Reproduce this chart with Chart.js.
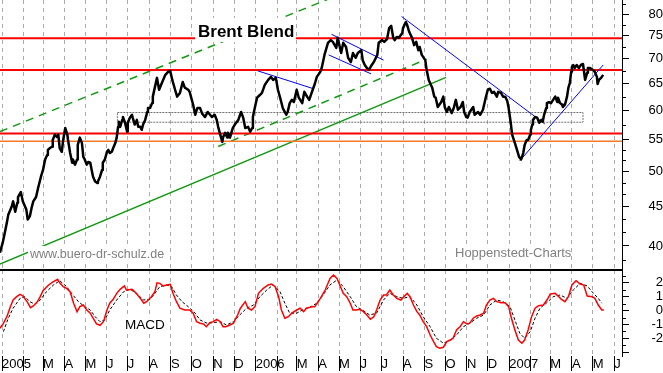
<!DOCTYPE html>
<html>
<head>
<meta charset="utf-8">
<script src="https://cdn.jsdelivr.net/npm/chart.js@4/dist/chart.umd.min.js"></script>
<style>
  html, body { margin: 0; padding: 0; background: #fff; }
  #wrap { position: relative; width: 663px; height: 373px; overflow: hidden; }
  canvas { position: absolute; left: 0; }
  #priceChart { top: 0; z-index: 2; }
  #macdChart { top: 270px; z-index: 1; }
</style>
</head>
<body>
<div id="wrap">
  <canvas id="priceChart" width="663" height="272"></canvas>
  <canvas id="macdChart" width="663" height="103"></canvas>
</div>
<script>
/*******************************
 * Brent Blend, Jan 2005 - May 2007
 * x values are days since 1 Jan 2005
*******************************/
var title = 'Brent Blend';

// price (USD / barrel)
var priceDays = [
  -3, 1, 4, 7, 9, 14, 16, 19, 22, 23,
  27, 30, 35, 37, 40, 43, 45, 49, 52, 56,
  59, 62, 65, 66, 69, 72, 73, 76, 79, 81,
  83, 86, 88, 91, 94, 95, 98, 101, 102, 105,
  108, 109, 112, 115, 117, 119, 122, 124, 127, 129,
  131, 134, 137, 138, 141, 144, 145, 148, 151, 153,
  155, 158, 160, 163, 165, 167, 168, 170, 173, 174,
  177, 180, 181, 184, 187, 188, 191, 194, 196, 199,
  201, 203, 206, 209, 210, 213, 216, 217, 220, 223,
  226, 230, 235, 239, 242, 245, 249, 252, 256, 260,
  263, 268, 270, 275, 278, 281, 285, 288, 292, 296,
  302, 306, 309, 311, 314, 317, 318, 321, 324, 325,
  328, 332, 335, 340, 344, 347, 350, 354, 357, 360,
  361, 364, 367, 371, 374, 378, 383, 387, 390, 394,
  397, 401, 404, 409, 411, 414, 417, 420, 424, 427,
  432, 435, 439, 442, 446, 450, 453, 458, 460, 464,
  469, 473, 476, 481, 483, 488, 491, 495, 498, 502,
  505, 509, 512, 517, 519, 522, 525, 528, 532, 535,
  540, 542, 547, 550, 554, 557, 560, 563, 565, 568,
  571, 576, 577, 581, 583, 586, 590, 593, 596, 599,
  601, 604, 609, 611, 614, 619, 622, 624, 627, 632,
  635, 637, 640, 643, 647, 650, 653, 656, 660, 663,
  665, 668, 670, 673, 678, 680, 685, 688, 692, 696,
  699, 702, 705, 708, 712, 714, 718, 721, 724, 727,
  729, 732, 734, 738, 741, 744, 747, 750, 752, 755,
  757, 760, 761, 763, 764, 767, 770, 773, 776, 778,
  780, 783, 784, 787, 790, 793, 796, 799, 800, 803,
  806, 807, 810, 813, 815, 817, 819, 820, 822, 824,
  827, 830, 833, 836, 839, 842, 843, 846, 850, 853,
  856, 857, 859, 862, 865
];
var priceVals = [
  39.2, 40.4, 41.6, 42.9, 43.9, 45.0, 45.7, 44.3, 45.5, 46.3,
  47.0, 45.7, 44.6, 43.3, 43.7, 45.0, 45.7, 46.3, 47.6, 49.2,
  50.2, 51.8, 52.5, 53.3, 53.6, 53.8, 54.9, 55.8, 55.4, 55.8,
  53.6, 53.0, 54.9, 56.9, 55.8, 54.9, 52.8, 51.3, 51.8, 51.0,
  51.8, 54.1, 55.3, 54.4, 52.2, 51.8, 51.0, 51.4, 51.3, 50.2,
  49.2, 48.5, 48.3, 48.5, 49.2, 50.2, 51.3, 51.8, 53.0, 53.3,
  52.8, 53.0, 53.6, 54.4, 55.3, 57.1, 58.0, 57.1, 58.3, 58.8,
  57.8, 56.3, 57.8, 58.7, 59.2, 58.7, 57.5, 58.3, 57.1, 57.1,
  56.6, 57.5, 58.3, 59.7, 60.4, 60.4, 61.3, 62.5, 64.3, 66.1,
  63.8, 65.1, 66.7, 67.3, 67.5, 65.7, 63.8, 62.5, 63.2, 65.3,
  64.2, 63.8, 63.4, 61.0, 59.2, 60.4, 60.4, 59.4, 58.8, 59.7,
  58.8, 59.2, 58.3, 57.1, 55.8, 54.6, 55.3, 56.1, 55.3, 56.1,
  55.3, 56.9, 57.5, 58.3, 59.7, 58.7, 56.9, 57.1, 56.3, 56.9,
  58.8, 60.6, 62.3, 62.8, 63.2, 64.7, 65.7, 66.3, 65.7, 66.1,
  63.8, 61.9, 60.4, 59.2, 59.7, 61.3, 61.9, 61.5, 63.8, 62.3,
  61.3, 63.4, 62.5, 61.9, 63.4, 64.9, 66.3, 67.3, 68.1, 70.8,
  73.4, 74.0, 73.6, 72.3, 74.5, 71.2, 73.4, 72.5, 70.2, 69.3,
  71.2, 70.2, 71.2, 71.8, 69.7, 68.7, 68.1, 67.7, 68.7, 69.3,
  70.8, 73.4, 74.0, 73.6, 74.2, 76.7, 77.2, 74.5, 74.0, 74.7,
  74.5, 75.6, 76.7, 78.1, 77.4, 75.8, 74.5, 72.9, 73.6, 71.8,
  72.5, 70.8, 69.7, 67.7, 65.7, 64.2, 62.5, 62.3, 60.6, 61.5,
  62.5, 60.6, 59.7, 60.6, 59.5, 60.4, 61.9, 60.1, 60.6, 61.5,
  59.7, 58.8, 58.7, 59.7, 60.6, 59.2, 59.7, 59.2, 60.1, 62.3,
  63.8, 64.0, 63.2, 63.4, 62.5, 63.4, 63.2, 62.5, 62.5, 61.7,
  60.4, 57.8, 55.8, 54.4, 53.3, 52.2, 51.8, 52.8, 54.1, 54.9,
  54.9, 55.8, 56.6, 57.5, 58.3, 58.8, 58.7, 57.8, 58.3, 58.0,
  59.2, 60.4, 61.3, 61.5, 61.3, 61.9, 62.5, 61.5, 62.3, 61.3,
  61.0, 60.6, 61.0, 62.5, 64.2, 65.1, 67.3, 68.3, 68.7, 68.1,
  68.7, 68.1, 68.7, 68.9, 65.7, 67.1, 68.1, 68.1, 67.7, 67.3,
  66.3, 64.9, 65.7, 66.1, 66.7
];

// MACD line (red) and signal line (black dashed)
var macdDays = [
  -3, 2, 7, 12, 16, 21, 26, 30, 36, 41,
  45, 50, 55, 59, 67, 74, 80, 83, 88, 93,
  98, 103, 108, 112, 117, 122, 127, 131, 136, 141,
  146, 151, 155, 160, 165, 170, 176, 179, 187, 191,
  199, 204, 208, 215, 220, 223, 227, 232, 237, 242,
  246, 251, 256, 263, 270, 275, 280, 285, 290, 294,
  299, 304, 309, 314, 318, 322, 328, 333, 339, 343,
  350, 354, 359, 364, 369, 376, 383, 388, 393, 398,
  402, 407, 412, 417, 424, 429, 434, 438, 446, 450,
  458, 465, 472, 477, 482, 486, 491, 496, 501, 505,
  510, 515, 520, 525, 530, 535, 539, 544, 549, 553,
  558, 563, 568, 574, 578, 583, 587, 592, 597, 601,
  606, 611, 616, 621, 625, 630, 635, 640, 645, 649,
  654, 659, 664, 669, 673, 678, 683, 688, 693, 697,
  702, 707, 712, 718, 724, 729, 733, 738, 743, 748,
  752, 757, 762, 767, 772, 779, 784, 789, 796, 800,
  805, 810, 815, 820, 826, 832, 837, 842, 849, 853,
  858, 863, 866
];
var macdVals = [
  -1.27, -0.92, -0.44, 0.28, 0.76, 1.0, 1.17, 1.05, 0.64, 0.21,
  0.33, 0.57, 1.0, 1.43, 1.84, 2.08, 2.25, 2.0, 1.72, 1.6,
  1.36, 0.53, -0.08, 0.28, 0.4, 0.04, -0.19, -0.55, -0.96, -1.06,
  -0.8, 0.04, 0.53, 0.81, 1.24, 1.53, 1.77, 1.48, 1.53, 1.36,
  0.88, 0.53, 0.64, 1.0, 1.36, 2.0, 1.96, 1.77, 1.84, 1.89,
  1.24, 0.64, 0.17, 0.04, 0.04, -0.19, -0.8, -0.91, -0.96, -1.16,
  -0.87, -0.8, -0.63, -0.8, -1.16, -1.16, -1.04, -0.91, -0.32, 0.17,
  0.64, 0.17, 0.04, 0.28, 1.24, 1.6, 1.84, 1.91, 1.72, 1.0,
  0.04, -0.55, -0.44, -0.19, 0.04, 0.17, -0.08, 0.17, 0.28, 0.28,
  0.88, 1.48, 2.32, 2.56, 2.32, 1.84, 1.24, 1.0, 0.53, 0.04,
  0.04, 0.09, -0.08, -0.32, -0.63, -0.44, 0.04, 0.76, 1.12, 1.12,
  1.48, 1.12, 0.88, 0.76, 1.0, 1.24, 1.0, 0.4, -0.08, -0.32,
  -0.8, -1.16, -1.76, -2.24, -2.6, -2.71, -2.64, -2.24, -2.12, -1.99,
  -1.4, -1.16, -0.8, -0.96, -0.91, -0.55, -0.39, -0.32, -0.19, 0.4,
  0.76, 0.88, 0.64, 0.57, 0.57, 0.28, -0.55, -1.4, -2.12, -2.35,
  -2.12, -1.4, -0.44, 0.17, 0.35, 0.4, 0.76, 1.19, 1.24, 1.05,
  0.81, 0.64, 1.0, 1.84, 2.15, 1.91, 1.84, 1.05, 1.0, 0.88,
  0.4, 0.04, 0.04
];
var signalDays = [
  2, 9, 16, 26, 33, 40, 47, 55, 64, 74,
  83, 93, 100, 110, 119, 127, 134, 141, 148, 155,
  165, 175, 184, 194, 203, 213, 220, 227, 237, 244,
  251, 259, 268, 278, 285, 295, 304, 314, 323, 333,
  342, 352, 362, 371, 381, 390, 400, 407, 414, 424,
  434, 443, 453, 462, 472, 482, 491, 501, 510, 520,
  529, 539, 549, 558, 568, 577, 587, 597, 606, 616,
  625, 635, 645, 654, 664, 673, 683, 693, 702, 712,
  721, 731, 738, 745, 752, 760, 767, 774, 784, 793,
  803, 813, 822, 832, 842, 851, 858, 863
];
var signalVals = [
  -1.52, -0.55, 0.17, 0.88, 1.0, 0.64, 0.47, 0.76, 1.36, 1.84,
  2.15, 1.72, 1.24, 0.64, 0.28, 0.04, -0.44, -0.8, -0.68, 0.04,
  0.76, 1.36, 1.53, 1.24, 0.76, 0.81, 1.24, 1.72, 1.84, 1.72,
  1.12, 0.64, 0.28, -0.19, -0.68, -0.91, -0.87, -0.8, -1.04, -0.8,
  -0.32, 0.17, 0.4, 1.0, 1.48, 1.84, 1.36, 0.53, -0.19, -0.19,
  0.09, 0.24, 0.53, 1.12, 1.85, 2.2, 1.72, 1.0, 0.28, 0.0,
  -0.32, -0.19, 0.76, 1.24, 1.0, 0.88, 1.0, 0.4, -0.44, -1.16,
  -1.99, -2.35, -2.12, -1.76, -1.16, -0.91, -0.55, -0.32, 0.4, 0.76,
  0.64, 0.28, -0.68, -1.63, -1.99, -1.52, -0.55, 0.17, 0.57, 1.0,
  1.12, 0.88, 1.48, 1.96, 1.77, 1.24, 0.88, 0.53
];

// horizontal levels
var redLevels = [74.4, 67.7, 56.0];
var orangeLevel = 54.7;
// trading range box
var boxDays = [166, 836];
var boxPrices = [57.9, 59.6];
// trend lines [day, price]
var greenUpper = [[-3, 56.3], [486, 84.8]];
var greenMiddle = [[311, 53.85], [611, 69.9]];
var greenLower = [[-3, 37.9], [639, 66.2]];
var blueLines = [
  [[368, 67.5], [448, 64.0]],
  [[474, 75.3], [549, 69.7]],
  [[470, 70.8], [531, 66.9]],
  [[575, 79.4], [781, 57.6]],
  [[745, 51.6], [865, 68.7]]
];

// axes
var tickLabels = ['2005', '', 'M', 'A', 'M', 'J', 'J', 'A', 'S', 'O', 'N', 'D',
                  '2006', '', 'M', 'A', 'M', 'J', 'J', 'A', 'S', 'O', 'N', 'D',
                  '2007', '', 'M', 'A', 'M', 'J'];
var priceTicks = [40, 45, 50, 55, 60, 65, 70, 75, 80];
var priceMinorTicks = [38.33, 41.67, 43.33, 46.67, 48.33, 51.67, 53.33, 57.5, 62.5, 67.5, 72.5, 77.5, 82.5];
var macdTicks = [-3, -2, -1, 0, 1, 2];
var macdMinorTicks = [-2.5, -1.5, -0.5, 0.5, 1.5, 2.5];

var xMin = -2.9, xMax = 892.1;
var FONT = '"Liberation Sans", Arial, sans-serif';
var GRID = '#ababab';

Chart.defaults.font.family = FONT;
Chart.defaults.font.size = 13;
Chart.defaults.color = '#000';

function pairs(xs, ys) {
  return xs.map(function (x, i) { return {x: x, y: ys[i]}; });
}

function lineSet(points, color, width, dash) {
  return {
    data: points.map(function (p) { return {x: p[0], y: p[1]}; }),
    borderColor: color,
    borderWidth: width,
    borderDash: dash || [],
    pointRadius: 0,
    fill: false,
    tension: 0
  };
}

function monthTicks() {
  var t = [];
  for (var i = 0; i < tickLabels.length; i++) {
    t.push({value: (Date.UTC(2005, i, 1) - Date.UTC(2005, 0, 1)) / 86400000});
  }
  return t;
}

// short unlabeled ticks on a right-hand axis
function minorTicks(chart, axisId, values) {
  var ctx = chart.ctx, s = chart.scales[axisId];
  ctx.save();
  ctx.strokeStyle = '#000';
  ctx.lineWidth = 1;
  ctx.beginPath();
  values.forEach(function (v) {
    var p = Math.round(s.getPixelForValue(v)) + 0.5;
    ctx.moveTo(s.left, p);
    ctx.lineTo(s.left + 4, p);
  });
  ctx.stroke();
  ctx.restore();
}

function label(ctx, text, x, y, box, font, color) {
  ctx.fillStyle = '#fff';
  ctx.fillRect(box[0], box[1], box[2], box[3]);
  ctx.font = font;
  ctx.fillStyle = color;
  ctx.fillText(text, x, y);
}

var priceOverlay = {
  id: 'priceOverlay',
  afterDatasetsDraw: function (chart) {
    var ctx = chart.ctx;
    ctx.save();
    ctx.textBaseline = 'alphabetic';
    label(ctx, title, 198, 37, [195, 18, 101, 24], 'bold 17px ' + FONT, '#000');
    label(ctx, 'www.buero-dr-schulz.de', 30, 258, [28, 246, 139, 15], '12.5px ' + FONT, '#808080');
    label(ctx, 'Hoppenstedt-Charts', 455, 257, [453, 245, 118, 16], '13px ' + FONT, '#808080');
    ctx.restore();
    minorTicks(chart, 'y', priceMinorTicks);
  }
};

var macdOverlay = {
  id: 'macdOverlay',
  afterDatasetsDraw: function (chart) {
    var ctx = chart.ctx;
    ctx.save();
    ctx.textBaseline = 'alphabetic';
    label(ctx, 'MACD', 125, 59, [123, 46, 42, 16], '13.5px ' + FONT, '#000');
    ctx.restore();
    minorTicks(chart, 'y', macdMinorTicks);
  }
};

/*******************************
* Price panel
*******************************/
var priceSets = [{
  data: pairs(priceDays, priceVals),
  borderColor: '#000', borderWidth: 2.5, pointRadius: 0, tension: 0,
  borderJoinStyle: 'round', fill: false
}];
blueLines.forEach(function (l) { priceSets.push(lineSet(l, '#0000ff', 1)); });
redLevels.forEach(function (v) { priceSets.push(lineSet([[xMin, v], [xMax, v]], '#ff0000', 2)); });
priceSets.push(lineSet([[xMin, orangeLevel], [xMax, orangeLevel]], '#f07a2a', 1.5));
priceSets.push(lineSet(greenUpper, '#119911', 1.5, [8, 6]));
priceSets.push(lineSet(greenMiddle, '#119911', 1.5, [8, 6]));
priceSets.push(lineSet(greenLower, '#119911', 1.5));
priceSets.push(lineSet([
  [boxDays[0], boxPrices[1]], [boxDays[1], boxPrices[1]],
  [boxDays[1], boxPrices[0]], [boxDays[0], boxPrices[0]],
  [boxDays[0], boxPrices[1]]
], '#707070', 1, [2, 1]));

new Chart('priceChart', {
  type: 'line',
  data: { datasets: priceSets },
  options: {
    responsive: false,
    animation: false,
    events: [],
    layout: { autoPadding: false, padding: { left: 0, right: 0, top: 0, bottom: 2 } },
    plugins: { legend: { display: false }, tooltip: { enabled: false } },
    scales: {
      x: {
        type: 'linear', min: xMin, max: xMax,
        afterBuildTicks: function (s) { s.ticks = monthTicks(); },
        afterFit: function (s) { s.height = 0; s.paddingLeft = 0; s.paddingRight = 0; },
        ticks: { display: false },
        grid: { color: GRID, lineWidth: 1, drawTicks: false },
        border: { display: true, color: '#000', width: 2, dash: [4, 4] }
      },
      y: {
        type: 'logarithmic', position: 'right', min: 37.23, max: 83.42,
        afterBuildTicks: function (s) { s.ticks = priceTicks.map(function (v) { return {value: v}; }); },
        afterFit: function (s) { s.width = 41; s.paddingTop = 0; s.paddingBottom = 0; },
        ticks: { padding: 16, crossAlign: 'far', autoSkip: false,
                 callback: function (v) { return String(v); } },
        grid: { drawOnChartArea: false, drawTicks: true, tickLength: 7, tickColor: '#000' },
        border: { display: true, color: '#000', width: 1 }
      }
    }
  },
  plugins: [priceOverlay]
});

/*******************************
* MACD panel
*******************************/
new Chart('macdChart', {
  type: 'line',
  data: {
    datasets: [
      { data: pairs(macdDays, macdVals), borderColor: '#ff0000', borderWidth: 1.5,
        pointRadius: 0, tension: 0, fill: false },
      { data: pairs(signalDays, signalVals), borderColor: '#000', borderWidth: 1,
        borderDash: [3, 2], pointRadius: 0, tension: 0, fill: false }
    ]
  },
  options: {
    responsive: false,
    animation: false,
    events: [],
    layout: { autoPadding: false, padding: 0 },
    plugins: { legend: { display: false }, tooltip: { enabled: false } },
    scales: {
      x: {
        type: 'linear', min: xMin, max: xMax,
        afterBuildTicks: function (s) { s.ticks = monthTicks(); },
        afterFit: function (s) { s.height = 17; s.paddingLeft = 0; s.paddingRight = 0; },
        ticks: { align: 'start', padding: -14, autoSkip: false, maxRotation: 0, minRotation: 0,
                 callback: function (v, i) { return tickLabels[i]; } },
        grid: { color: GRID, lineWidth: 1, drawTicks: true, tickLength: 15,
                tickColor: '#000', tickWidth: 1, tickBorderDash: [] },
        border: { display: false, dash: [4, 4] }
      },
      y: {
        type: 'linear', position: 'right', min: -3.27, max: 2.92,
        afterBuildTicks: function (s) { s.ticks = macdTicks.map(function (v) { return {value: v}; }); },
        afterFit: function (s) { s.width = 41; s.paddingTop = 0; s.paddingBottom = 0; },
        ticks: { padding: 19, crossAlign: 'far', autoSkip: false,
                 callback: function (v) { return v === -3 ? '' : String(v); } },
        grid: { drawOnChartArea: false, drawTicks: true, tickLength: 7, tickColor: '#000' },
        border: { display: true, color: '#000', width: 1 }
      }
    }
  },
  plugins: [macdOverlay]
});
</script>
</body>
</html>
